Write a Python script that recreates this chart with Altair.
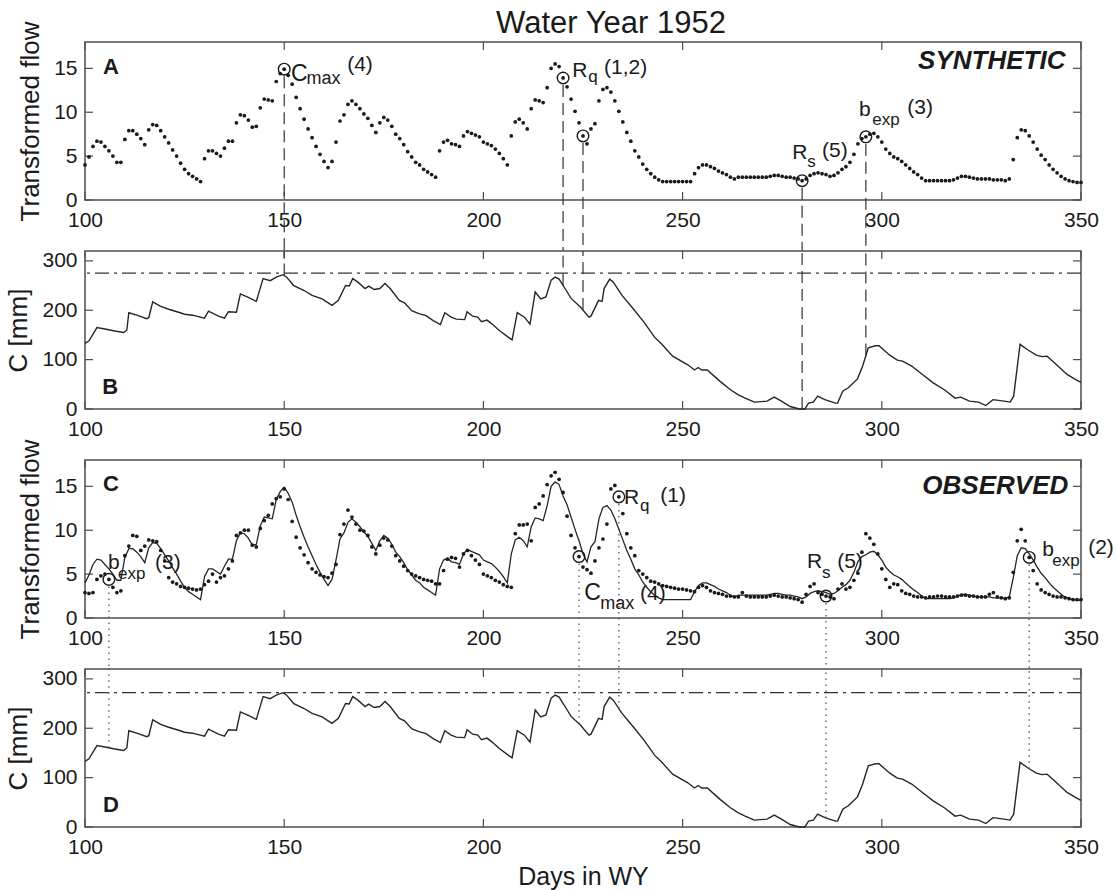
import altair as alt
import numpy as np
import pandas as pd

FONT = "Liberation Sans"
INK = "#1a1a1a"
FRAME = "#4d4d4d"

# Panel geometry (plot area of each panel, in px) and the gap between panels
W, H, GAP = 996, 158, 51

# ---------------------------------------------------------------- data
days = list(range(100, 351))

# Transformed flow simulated by the model (panel A dots, panel C line)
synthetic_flow = [
    4.0, 4.9, 6.1, 6.7, 6.6, 6.1, 5.6, 5.0, 4.3, 4.3,
    6.9, 7.9, 7.9, 7.5, 7.0, 6.3, 8.0, 8.6, 8.5, 7.9,
    7.2, 6.5, 5.7, 5.0, 4.2, 3.5, 3.0, 2.7, 2.4, 2.1,
    4.7, 5.6, 5.6, 5.3, 5.0, 5.9, 6.7, 6.7, 8.8, 9.7,
    9.6, 9.1, 8.3, 8.4, 10.5, 11.5, 11.4, 11.3, 13.5, 14.4,
    14.9, 14.2, 13.2, 11.7, 10.4, 9.2, 8.1, 7.1, 6.1, 5.2,
    4.4, 3.7, 4.4, 6.6, 9.0, 9.7, 10.9, 11.3, 10.9, 10.4,
    9.8, 9.3, 8.5, 7.7, 8.8, 9.4, 9.1, 8.4, 7.5, 7.0,
    6.3, 5.5, 4.9, 4.3, 4.0, 3.5, 3.2, 2.9, 2.6, 5.6,
    6.6, 6.8, 6.4, 6.3, 6.1, 7.3, 7.8, 7.6, 7.4, 7.2,
    6.6, 6.4, 6.2, 5.8, 5.3, 4.7, 4.0, 7.3, 8.9, 9.2,
    8.8, 8.1, 10.4, 11.4, 11.3, 11.1, 12.8, 15.0, 15.5, 15.2,
    13.9, 12.9, 11.5, 10.1, 8.8, 7.3, 6.4, 8.1, 8.7, 11.3,
    12.6, 12.8, 12.3, 11.3, 10.1, 8.9, 7.7, 6.7, 5.6, 4.9,
    4.1, 3.5, 3.0, 2.6, 2.3, 2.1, 2.1, 2.1, 2.1, 2.1,
    2.1, 2.1, 2.1, 3.0, 3.7, 4.0, 4.0, 3.8, 3.6, 3.3,
    3.1, 2.9, 2.6, 2.4, 2.6, 2.6, 2.6, 2.6, 2.6, 2.6,
    2.6, 2.6, 2.7, 2.8, 2.8, 2.7, 2.6, 2.6, 2.5, 2.4,
    2.2, 2.4, 2.8, 3.0, 3.1, 3.0, 2.9, 2.7, 2.8, 3.1,
    3.5, 3.8, 4.3, 5.2, 6.4, 7.0, 7.2, 7.5, 7.6, 7.2,
    6.6, 5.8, 5.3, 4.9, 4.7, 4.4, 4.0, 3.6, 3.2, 2.9,
    2.5, 2.2, 2.2, 2.2, 2.2, 2.2, 2.2, 2.2, 2.3, 2.5,
    2.7, 2.7, 2.6, 2.5, 2.4, 2.4, 2.4, 2.4, 2.3, 2.3,
    2.3, 2.2, 2.4, 4.6, 7.1, 8.0, 7.9, 7.3, 6.6, 5.8,
    5.1, 4.6, 4.0, 3.5, 3.1, 2.7, 2.4, 2.2, 2.1, 2.0,
    2.0,
]

# Transformed flow observed at the gauge (panel C dots)
observed_flow = [
    2.9, 2.8, 2.9, 4.4, 4.8, 5.0, 4.4, 3.5, 2.9, 3.1,
    7.1, 8.2, 9.4, 9.3, 7.7, 8.2, 8.9, 8.8, 8.7, 7.7,
    6.5, 4.6, 4.1, 3.9, 3.6, 3.5, 3.4, 3.3, 3.2, 3.3,
    3.8, 4.2, 5.0, 4.1, 4.6, 4.8, 5.6, 6.5, 9.4, 9.7,
    10.0, 10.0, 8.3, 8.1, 10.2, 11.1, 11.7, 13.0, 13.6, 13.8,
    14.7, 13.5, 11.0, 9.2, 8.0, 7.2, 6.3, 5.6, 5.2, 4.9,
    4.7, 4.6, 5.1, 6.1, 9.5, 10.7, 12.3, 11.5, 10.7, 10.0,
    9.9, 9.4, 8.1, 7.3, 8.3, 9.1, 8.9, 8.2, 7.1, 6.5,
    5.9, 5.4, 5.0, 4.8, 4.6, 4.4, 4.3, 4.2, 3.9, 3.9,
    5.4, 6.7, 6.9, 6.8, 5.8, 7.3, 7.7, 7.1, 6.6, 6.1,
    5.0, 4.8, 4.6, 4.3, 4.1, 3.8, 3.6, 3.5, 9.6, 10.6,
    10.6, 10.7, 8.8, 12.6, 13.0, 13.9, 15.2, 16.2, 16.6, 15.8,
    14.3, 11.6, 9.4, 8.0, 7.0, 5.8, 5.5, 5.1, 6.5, 8.0,
    9.0, 10.7, 14.7, 15.1, 13.8, 11.9, 9.6, 8.0, 7.1, 5.4,
    5.0, 4.6, 4.2, 4.1, 3.9, 3.7, 3.6, 3.5, 3.4, 3.3,
    3.3, 3.2, 3.1, 3.0, 3.5, 3.7, 3.5, 3.1, 2.9, 2.8,
    2.7, 2.5, 2.5, 2.4, 2.4, 2.9, 2.5, 2.4, 2.4, 2.4,
    2.4, 2.4, 2.5, 2.6, 2.5, 2.4, 2.4, 2.3, 2.2, 2.1,
    1.8, 2.7, 3.6, 3.9, 2.9, 2.7, 2.5, 2.4, 2.2, 3.3,
    3.9, 3.3, 3.5, 4.3, 5.1, 7.5, 9.6, 9.1, 8.4, 7.3,
    5.6, 4.4, 3.5, 3.9, 3.8, 3.1, 2.8, 2.7, 2.5, 2.4,
    2.4, 2.3, 2.4, 2.4, 2.5, 2.5, 2.4, 2.4, 2.4, 2.5,
    2.6, 2.6, 2.5, 2.5, 2.4, 2.4, 2.4, 2.7, 2.9, 2.4,
    2.3, 2.2, 2.3, 5.2, 8.8, 10.1, 8.8, 6.9, 5.4, 3.9,
    3.2, 2.9, 2.7, 2.5, 2.4, 2.4, 2.3, 2.2, 2.1, 2.1,
    2.1,
]

# Soil-water storage C [mm] (panels B and D)
storage_day = [
    100, 101, 103, 105, 107.5, 109.7, 110.5, 111, 113, 115.5, 116, 117, 119, 121,
    123.5, 125, 127, 130, 131, 133.5, 135, 136, 138, 139, 141, 143, 144.7, 146.5,
    148, 149.7, 150.6, 152.4, 155, 157, 159.5, 162, 163.6, 165.4, 166.3, 167.2,
    168.5, 170.3, 171.2, 172.6, 174, 175.3, 176.6, 178.9, 180.2, 182, 183.8, 185.6,
    187.4, 189.2, 190.3, 191.9, 193.2, 195.3, 195.9, 197.3, 198.6, 199.5, 200.9,
    202.2, 204, 206.3, 207.2, 208.5, 210.3, 211.7, 213, 214.4, 215.7, 217, 218,
    219, 220.8, 222, 224.4, 226.5, 227, 228.9, 229.8, 230.3, 231.7, 232.6, 234.8,
    237.6, 240.3, 243, 244.8, 247.5, 251.2, 253, 253.9, 254.8, 256.2, 259.4, 262,
    263.9, 265.7, 268, 271.2, 273, 274.8, 277, 279.3, 280.7, 281.6, 282.8, 283.9,
    285.7, 288.4, 288.9, 290.2, 291.6, 293.9, 295.2, 296.6, 298.4, 299.3, 302,
    303.9, 305.2, 307.5, 310.2, 312.9, 315.7, 318.4, 319.8, 322, 324.3, 326.1,
    327.9, 330.7, 332.2, 333.1, 334.7, 336.6, 338.8, 340.2, 341.5, 343.8, 346.5,
    348.8, 350,
]
storage_mm = [
    133, 138, 165, 162, 158, 155, 160, 195, 190, 183, 185, 217, 208, 202,
    196, 192, 190, 184, 198, 188, 184, 197, 196, 233, 226, 218, 264, 260,
    267, 272, 267, 250, 240, 230, 223, 210, 220, 250, 249, 264,
    257, 244, 249, 242, 244, 254, 244, 220, 215, 199, 193, 189,
    179, 171, 195, 186, 182, 181, 197, 188, 186, 177, 180,
    172, 159, 145, 140, 195, 186, 172, 237, 223, 227, 261, 267,
    263, 240, 224, 206, 186, 188, 220, 218, 244, 263, 257, 230,
    203, 176, 145, 131, 107, 90, 79, 84, 79, 79, 56, 39,
    29, 22, 14, 16, 24, 16, 5, 0, 0, 12, 14, 26,
    19, 12, 12, 36, 43, 61, 87, 124, 128, 128, 109,
    99, 97, 87, 70, 53, 39, 22, 24, 16, 14, 7,
    19, 16, 14, 26, 131, 120, 109, 106, 107, 90, 70,
    59, 54,
]

# Storage capacity levels (dash-dot lines)
capacity_synthetic = 275
capacity_observed = 272

# Days whose values are circled and carried down to the storage panels
synthetic_marked_days = [150, 220, 225, 280, 296]
observed_marked_days = [106, 224, 234, 286, 337]

x_ticks = [100, 150, 200, 250, 300, 350]
flow_ticks = [0, 5, 10, 15]
storage_ticks = [0, 100, 200, 300]

assert len(synthetic_flow) == len(days) and len(observed_flow) == len(days)
assert len(storage_day) == len(storage_mm)

flow_df = pd.DataFrame({"day": days, "synthetic": synthetic_flow, "observed": observed_flow})
storage_df = pd.DataFrame({"day": storage_day, "mm": storage_mm})

# ---------------------------------------------------------------- scales / axes
x_scale = alt.Scale(domain=[100, 350], nice=False, zero=False)
flow_scale = alt.Scale(domain=[0, 18], nice=False)
storage_scale = alt.Scale(domain=[0, 320], nice=False)


def x_axis(title=None):
    return alt.Axis(values=x_ticks, ticks=False, domain=False, grid=False,
                    labelFont=FONT, labelFontSize=21, labelColor=INK, labelPadding=9,
                    labelFlush=False, format="d", title=title, titleFont=FONT,
                    titleFontSize=25, titleFontWeight="normal", titleColor=INK,
                    titlePadding=7)


def y_axis(values, title):
    return alt.Axis(values=values, ticks=False, domain=False, grid=False,
                    labelFont=FONT, labelFontSize=21, labelColor=INK, labelPadding=8,
                    labelFlush=False, format="d", title=title, titleFont=FONT,
                    titleFontSize=26, titleFontWeight="normal", titleColor=INK,
                    titlePadding=10)


class Panel:
    def __init__(self, y_scale, y_ticks, y_title, x_title=None):
        self.y_scale = y_scale
        self.y_ticks = y_ticks
        self.y_title = y_title
        self.x_title = x_title

    def X(self, field):
        return alt.X(field, type="quantitative", scale=x_scale, axis=x_axis(self.x_title))

    def Y(self, field):
        return alt.Y(field, type="quantitative", scale=self.y_scale,
                     axis=y_axis(self.y_ticks, self.y_title))

    def ticks(self):
        style = dict(color=FRAME, strokeWidth=1.2)
        xt = pd.DataFrame({"t": x_ticks})
        yt = pd.DataFrame({"t": self.y_ticks})
        return [
            alt.Chart(xt).mark_rule(**style).encode(x=self.X("t"), y=alt.value(H), y2=alt.value(H - 8)),
            alt.Chart(xt).mark_rule(**style).encode(x=self.X("t"), y=alt.value(0), y2=alt.value(8)),
            alt.Chart(yt).mark_rule(**style).encode(y=self.Y("t"), x=alt.value(0), x2=alt.value(8)),
            alt.Chart(yt).mark_rule(**style).encode(y=self.Y("t"), x=alt.value(W), x2=alt.value(W - 8)),
        ]

    def words(self, rows, weight="normal", style="normal", align="left"):
        df = pd.DataFrame(rows, columns=["t", "d", "v", "s"])
        return alt.Chart(df).mark_text(
            align=align, baseline="alphabetic", font=FONT, fontWeight=weight,
            fontStyle=style, color=INK,
        ).encode(x=self.X("d"), y=self.Y("v"), text="t:N", size=alt.Size("s:Q", scale=None, legend=None))


def storage_at(day_list):
    return np.interp(day_list, storage_day, storage_mm)


DOT = dict(size=14, color=INK, opacity=1)
RING = dict(shape="circle", filled=False, size=135, strokeWidth=1.4, color=INK, opacity=1)

# ---------------------------------------------------------------- panel A
pa = Panel(flow_scale, flow_ticks, "Transformed flow")
marked_a = flow_df[flow_df["day"].isin(synthetic_marked_days)].copy()
marked_a["top"] = marked_a["synthetic"] - 0.8

panel_a = alt.layer(
    *pa.ticks(),
    alt.Chart(flow_df).mark_circle(**DOT).encode(x=pa.X("day"), y=pa.Y("synthetic")),
    alt.Chart(marked_a).mark_rule(color="#333333", strokeWidth=1.2, strokeDash=[12, 6]).encode(
        x=pa.X("day"), y=pa.Y("top"), y2=alt.value(H + GAP)),
    alt.Chart(marked_a).mark_point(**RING).encode(x=pa.X("day"), y=pa.Y("synthetic")),
    pa.words([("A", 104.5, 14.3, 22)], weight="bold"),
    pa.words([("C", 151.7, 13.6, 23), ("R", 222.3, 14.0, 21), ("R", 277.5, 4.7, 21),
              ("b", 294.3, 9.6, 21)]),
    pa.words([("max", 155.6, 13.2, 18), ("q", 226.3, 13.4, 17), ("s", 281.3, 3.8, 17),
              ("exp", 297.6, 8.6, 17)]),
    pa.words([("(4)", 165.8, 14.7, 21), ("(1,2)", 230.3, 14.4, 21), ("(5)", 285.0, 4.95, 21),
              ("(3)", 306.4, 9.85, 21)]),
    pa.words([("SYNTHETIC", 346.1, 14.9, 26)], weight="bold", style="italic", align="right"),
).properties(width=W, height=H)

# ---------------------------------------------------------------- panel B
pb = Panel(storage_scale, storage_ticks, "C [mm]")
drop_b = pd.DataFrame({"day": synthetic_marked_days, "c": storage_at(synthetic_marked_days)})

panel_b = alt.layer(
    *pb.ticks(),
    alt.Chart(pd.DataFrame({"c": [capacity_synthetic]})).mark_rule(
        color="#333333", strokeWidth=1.3, strokeDash=[14, 5, 3, 5]).encode(y=pb.Y("c")),
    alt.Chart(storage_df).mark_line(color="#262626", strokeWidth=1.4).encode(
        x=pb.X("day"), y=pb.Y("mm")),
    alt.Chart(drop_b).mark_rule(color="#333333", strokeWidth=1.2, strokeDash=[12, 6]).encode(
        x=pb.X("day"), y=pb.Y("c"), y2=alt.value(0)),
    pb.words([("B", 104.3, 31, 22)], weight="bold"),
).properties(width=W, height=H)

# ---------------------------------------------------------------- panel C
pc = Panel(flow_scale, flow_ticks, "Transformed flow")
marked_c = flow_df[flow_df["day"].isin(observed_marked_days)].copy()
marked_c["top"] = marked_c["observed"] - 0.8

panel_c = alt.layer(
    *pc.ticks(),
    alt.Chart(flow_df).mark_line(color="#262626", strokeWidth=1.3).encode(
        x=pc.X("day"), y=pc.Y("synthetic")),
    alt.Chart(flow_df).mark_circle(**DOT).encode(x=pc.X("day"), y=pc.Y("observed")),
    alt.Chart(marked_c).mark_rule(color="#555555", strokeWidth=1.3, strokeDash=[1.5, 4.5]).encode(
        x=pc.X("day"), y=pc.Y("top"), y2=alt.value(H + GAP)),
    alt.Chart(marked_c).mark_point(**RING).encode(x=pc.X("day"), y=pc.Y("observed")),
    pc.words([("C", 104.5, 14.5, 22)], weight="bold"),
    pc.words([("b", 105.8, 5.6, 21), ("C", 225.3, 2.1, 23), ("R", 235.3, 13.0, 21),
              ("R", 281.2, 5.7, 21), ("b", 340.3, 7.1, 21)]),
    pc.words([("exp", 108.3, 4.5, 17), ("max", 229.3, 1.05, 18), ("q", 239.3, 12.2, 17),
              ("s", 285.0, 4.6, 17), ("exp", 342.8, 5.9, 17)]),
    pc.words([("(3)", 117.6, 5.6, 21), ("(4)", 239.3, 2.1, 21), ("(1)", 244.4, 13.2, 21),
              ("(5)", 288.8, 5.7, 21), ("(2)", 351.8, 7.3, 21)]),
    pc.words([("OBSERVED", 346.8, 14.1, 26)], weight="bold", style="italic", align="right"),
).properties(width=W, height=H)

# ---------------------------------------------------------------- panel D
pd_ = Panel(storage_scale, storage_ticks, "C [mm]", x_title="Days in WY")
drop_d = pd.DataFrame({"day": observed_marked_days, "c": storage_at(observed_marked_days)})

panel_d = alt.layer(
    *pd_.ticks(),
    alt.Chart(pd.DataFrame({"c": [capacity_observed]})).mark_rule(
        color="#333333", strokeWidth=1.3, strokeDash=[14, 5, 3, 5]).encode(y=pd_.Y("c")),
    alt.Chart(storage_df).mark_line(color="#262626", strokeWidth=1.4).encode(
        x=pd_.X("day"), y=pd_.Y("mm")),
    alt.Chart(drop_d).mark_rule(color="#555555", strokeWidth=1.3, strokeDash=[1.5, 4.5]).encode(
        x=pd_.X("day"), y=pd_.Y("c"), y2=alt.value(0)),
    pd_.words([("D", 104.5, 30, 22)], weight="bold"),
).properties(width=W, height=H)

chart = alt.vconcat(
    panel_a, panel_b, panel_c, panel_d, spacing=GAP, bounds="flush",
).properties(
    title=alt.TitleParams("Water Year 1952", font=FONT, fontSize=31, fontWeight="normal",
                          color=INK, anchor="middle", frame="group", dx=28, dy=28, offset=8),
    padding={"left": 5, "top": 8, "right": 1, "bottom": 0},
).configure_view(stroke=FRAME, strokeWidth=1.5)

chart.save("out.html", embed_options={"renderer": "svg", "actions": False})
